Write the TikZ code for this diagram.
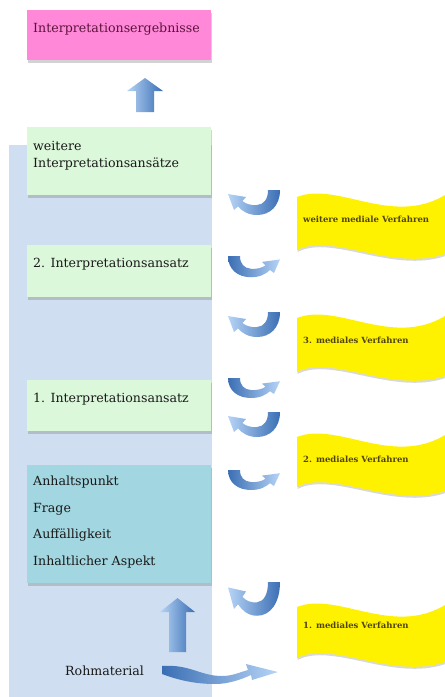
\documentclass[tikz,border=0pt]{standalone}
\usepackage{fontspec}
\setmainfont{DejaVu Serif}
\usetikzlibrary{shadows}

\definecolor{bgblue}{RGB}{207,222,240}
\definecolor{boxpink}{RGB}{255,136,216}
\definecolor{boxgreen}{RGB}{220,248,218}
\definecolor{boxteal}{RGB}{162,214,224}
\definecolor{arrowdark}{RGB}{58,110,180}
\definecolor{arrowlight}{RGB}{182,212,246}
\definecolor{pinktext}{RGB}{90,20,60}
\definecolor{wavetext}{RGB}{80,70,10}

\tikzset{
  stepbox/.style={rectangle, anchor=north west, minimum width=184pt, inner sep=0pt,
    drop shadow={shadow xshift=0.5pt, shadow yshift=-2.5pt, opacity=0.35}},
  boxtext/.style={anchor=base west, inner sep=0pt, font=\fontsize{12.6}{15}\selectfont, text=black!90},
  wavelabel/.style={anchor=base west, inner sep=0pt, font=\fontsize{8.5}{10}\selectfont\bfseries, text=wavetext},
  wave/.style={fill=yellow, drop shadow={shadow xshift=0.5pt, shadow yshift=-2pt, opacity=0.3}},
  bluearrow/.style={left color=arrowlight, right color=arrowdark},
  pics/uturn/.style={code={
    \path[#1] (40,0) -- (52,0) .. controls (52,16) and (42,25) .. (29,25)
      .. controls (20,25) and (14,21) .. (10,16.5) -- (6,20) -- (0,4) -- (18,7) -- (14.5,11)
      .. controls (18,14) and (23,15.5) .. (29,15) .. controls (36,14.5) and (40,9) .. (40,0) -- cycle;
  }},
  pics/banner/.style={code={
    \path[wave] (0,0) .. controls (40,-16) and (95,30) .. (148,-2) -- (148,#1+4)
      .. controls (95,#1+22) and (35,#1-18) .. (0,#1) -- cycle;
  }},
}

\begin{document}
\begin{tikzpicture}[x=1pt,y=-1pt]
\useasboundingbox (0,0) rectangle (445,697);

\fill[bgblue] (9,145) rectangle (212,697);

% boxes
\node[stepbox, fill=boxpink, minimum height=50pt] (ergebnisse) at (27,10) {};
\node[stepbox, fill=boxgreen, minimum height=68pt] (weitere) at (27,127) {};
\node[stepbox, fill=boxgreen, minimum height=52pt] (ansatz2) at (27,245) {};
\node[stepbox, fill=boxgreen, minimum height=51pt] (ansatz1) at (27,380) {};
\node[stepbox, fill=boxteal, minimum height=118pt] (anhalt) at (27,465) {};

\node[boxtext, text=pinktext] (ergtext) at (33,32) {Interpretationsergebnisse};
\node[boxtext] (weitertext) at (33,150) {weitere};
\node[boxtext] (weitertext2) at (33,167) {Interpretationsansätze};
\node[boxtext] (ansatz2text) at (33,267) {2. Interpretationsansatz};
\node[boxtext] (ansatz1text) at (33,402) {1. Interpretationsansatz};
\node[boxtext] (punkt) at (33,485) {Anhaltspunkt};
\node[boxtext] (frage) at (33,512) {Frage};
\node[boxtext] (auffall) at (33,538) {Auffälligkeit};
\node[boxtext] (aspekt) at (33,565) {Inhaltlicher Aspekt};
\node[boxtext] (roh) at (65,675) {Rohmaterial};

% up arrows
\path[bluearrow] (145,78) -- (163,91) -- (154,91) -- (154,112) -- (136,112) -- (136,91) -- (127,91) -- cycle;
\path[bluearrow] (177.5,598) -- (195,612) -- (186,612) -- (186,652) -- (169,652) -- (169,612) -- (160,612) -- cycle;

% yellow waves
\pic at (297,197) {banner=53};
\pic at (297,318) {banner=54};
\pic at (297,437) {banner=50};
\pic at (297,607) {banner=51};

\node[wavelabel] (medialw) at (303,222) {weitere mediale Verfahren};
\node[wavelabel] (medial3) at (303,343) {3. mediales Verfahren};
\node[wavelabel] (medial2) at (303,462) {2. mediales Verfahren};
\node[wavelabel] (medial1) at (303,628) {1. mediales Verfahren};

% turning arrows
\pic at (228,190) {uturn={left color=arrowlight, right color=arrowdark}};
\pic[xscale=-1, yscale=0.85] at (280,256) {uturn={left color=arrowdark, right color=arrowlight}};
\pic at (228,312) {uturn={left color=arrowlight, right color=arrowdark}};
\pic[xscale=-1, yscale=0.8] at (280,378) {uturn={left color=arrowdark, right color=arrowlight}};
\pic at (228,412) {uturn={left color=arrowlight, right color=arrowdark}};
\pic[xscale=-1, yscale=0.8] at (280,470) {uturn={left color=arrowdark, right color=arrowlight}};
\pic[yscale=1.35] at (228,582) {uturn={left color=arrowlight, right color=arrowdark}};

\path[left color=arrowdark, right color=arrowlight] (162,666) .. controls (190,664) and (200,676) .. (222,676)
  .. controls (233,676) and (240,672) .. (248,670) -- (246,664) -- (278,672) -- (252,680) -- (251,675)
  .. controls (240,680) and (228,684) .. (215,684) .. controls (195,684) and (178,680) .. (162,674) -- cycle;

\end{tikzpicture}
\end{document}
